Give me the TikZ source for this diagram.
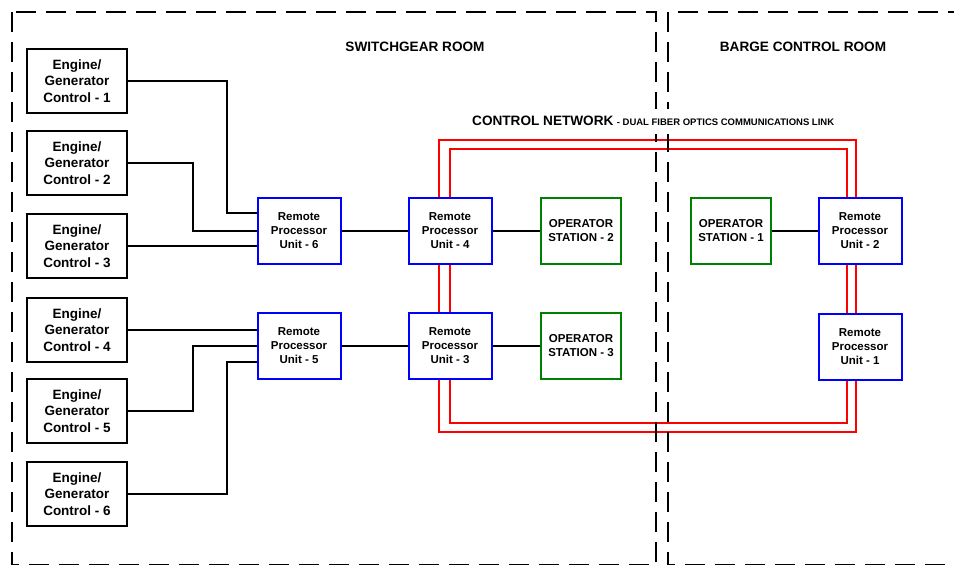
\documentclass[tikz,border=0pt]{standalone}
\usepackage{fontspec}
\setmainfont{Liberation Sans}

\begin{document}
\begin{tikzpicture}[x=1pt,y=-1pt]
  \tikzstyle{unit}=[draw, line width=2pt, fill=white, align=center, inner sep=0pt, font=\bfseries\fontsize{11.5}{14}\selectfont]
  \tikzstyle{engine}=[unit, minimum width=100pt, minimum height=64pt, font=\bfseries\fontsize{13.5}{16.5}\selectfont]
  \tikzstyle{rpu}=[unit, draw=blue, minimum width=83pt, minimum height=66pt]
  \tikzstyle{station}=[unit, draw=green!50!black, minimum width=80pt, minimum height=66pt]
  \tikzstyle{wire}=[line width=1.5pt]
  \tikzstyle{fiber}=[draw=red, line width=1.7pt]
  \tikzstyle{room}=[line width=2.4pt, dash pattern=on 20pt off 10pt]
  \tikzstyle{title}=[inner sep=0pt, font=\bfseries\fontsize{13.6}{16}\selectfont]

  \useasboundingbox (0,0) rectangle (954,565);

  \foreach \i/\y in {1/81, 2/163, 3/246, 4/330, 5/411, 6/494} {
    \node[engine] (eg\i) at (77,\y) {Engine/\\Generator\\Control - \i};
  }

  \node[rpu] (rpu6) at (299,231) {Remote\\Processor\\Unit - 6};
  \node[rpu] (rpu5) at (299,346) {Remote\\Processor\\Unit - 5};
  \node[rpu] (rpu4) at (450,231) {Remote\\Processor\\Unit - 4};
  \node[rpu] (rpu3) at (450,346) {Remote\\Processor\\Unit - 3};
  \node[rpu] (rpu2) at (860,231) {Remote\\Processor\\Unit - 2};
  \node[rpu] (rpu1) at (860,347) {Remote\\Processor\\Unit - 1};

  \node[station] (os2) at (581,231) {OPERATOR\\STATION - 2};
  \node[station] (os3) at (581,346) {OPERATOR\\STATION - 3};
  \node[station] (os1) at (731,231) {OPERATOR\\STATION - 1};

  % engine controls to the remote units
  \draw[wire] (eg1.east) -- ++(99,0) |- ([yshift=18pt]rpu6.west);
  \draw[wire] (eg2.east) -- ++(65,0) |- (rpu6.west);
  \draw[wire] (eg3.east) -- (eg3.east -| rpu6.west);
  \draw[wire] (eg4.east) -- (eg4.east -| rpu5.west);
  \draw[wire] (eg5.east) -- ++(65,0) |- (rpu5.west);
  \draw[wire] (eg6.east) -- ++(99,0) |- ([yshift=-16pt]rpu5.west);

  \draw[wire] (rpu6) -- (rpu4);
  \draw[wire] (rpu4) -- (os2);
  \draw[wire] (rpu5) -- (rpu3);
  \draw[wire] (rpu3) -- (os3);
  \draw[wire] (os1) -- (rpu2);

  % dual fiber ring
  \foreach \l/\r/\t/\b in {-11/-4/57/52, 0/-13/48/43} {
    \draw[fiber] ([xshift=\l]rpu4.north) -- ++(0,-\t) -| ([xshift=\r]rpu2.north);
    \draw[fiber] ([xshift=\l]rpu4.south) -- ([xshift=\l]rpu3.north);
    \draw[fiber] ([xshift=\r]rpu2.south) -- ([xshift=\r]rpu1.north);
    \draw[fiber] ([xshift=\l]rpu3.south) -- ++(0,\b) -| ([xshift=\r]rpu1.south);
  }

  % rooms
  \draw[room] (12,12) rectangle (656,565);
  \draw[room] (668,12) rectangle (955,565);

  \node[title] (sg) at (415,47) {SWITCHGEAR ROOM};
  \node[title] (bc) at (803,47) {BARGE CONTROL ROOM};
  \node[title, anchor=base west] (net) at (472,125) {CONTROL NETWORK};
  \node[fill=white, inner xsep=0pt, inner ysep=9pt, anchor=base west, xshift=3pt, font=\bfseries\fontsize{9.5}{11}\selectfont] (link) at (net.base east) {- DUAL FIBER OPTICS COMMUNICATIONS LINK};
\end{tikzpicture}
\end{document}
